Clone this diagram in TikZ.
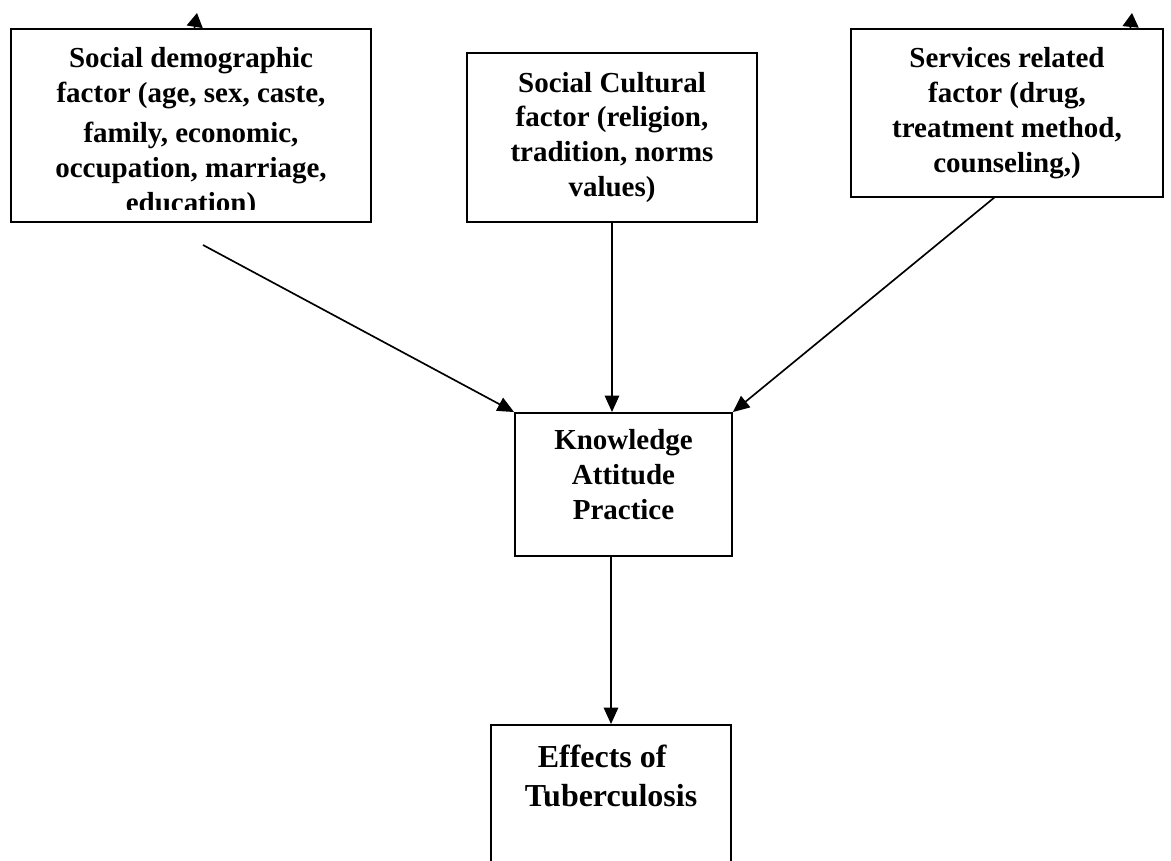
\documentclass[tikz,border=0pt]{standalone}
\usepackage{fontspec}
\setmainfont{Liberation Serif}
\usepackage{tikz}
\usetikzlibrary{arrows.meta,positioning}
\tikzstyle{arrow} = [line width=0.95pt,-{Triangle[length=0.33cm,width=0.29cm]}]
\tikzstyle{stub} = [-{Triangle[length=0.28cm,width=0.32cm]}]
\tikzstyle{factor} = [rectangle, draw, line width=1.1pt, inner sep=0pt, align=center, font=\fontsize{16.5}{19.9}\selectfont\bfseries]

\begin{document}
\begin{tikzpicture}[x=0.02cm, y=-0.02cm]
\path[use as bounding box, fill=white] (0,0) rectangle (1171,861);
\clip (0,0) rectangle (1171,861);

% Factors
\node (demo) [factor, minimum width=7.2cm, minimum height=3.86cm] at (191,125.5) {};
\begin{scope}
\clip (0,0) rectangle (1171,210);
\node (demotext) [factor, draw=none, anchor=north] at (191,46) {Social demographic\\factor (age, sex, caste,\\[3pt]family, economic,\\occupation, marriage,\\education)};
\end{scope}
\node (culture) [factor, minimum width=5.8cm, minimum height=3.38cm] at (612,137.5) {Social Cultural\\factor (religion,\\tradition, norms\\values)};
\node (service) [factor, minimum width=6.24cm, minimum height=3.36cm] at (1007,113) {Services related\\factor (drug,\\treatment method,\\counseling,)};

% KAP and outcome
\node (kap) [factor, minimum width=4.34cm, minimum height=2.86cm, text depth=0.4cm] at (623.5,484.5) {Knowledge\\Attitude\\Practice};
\node (effect) [factor, minimum width=4.8cm, minimum height=4cm, align=left, text depth=1.98cm, font=\fontsize{18.2}{22.2}\selectfont\bfseries] at (611,825) {\hspace*{0.26cm}Effects of\\Tuberculosis};

% Connections
\coordinate (demoout) at (203,245);
\coordinate (serviceout) at (995,197);
\draw[arrow] (demoout) -- (kap.north west);
\draw[arrow] (culture.south) -- (culture.south |- kap.north);
\draw[arrow] (serviceout) -- (kap.north east);
\draw[arrow] (effect.north |- kap.south) -- (effect.north);

% Loose heads on top
\coordinate (demobase) at (194.5,28);
\coordinate (demotip) at (197,13);
\coordinate (servicebase) at (1130.5,28);
\coordinate (servicetip) at (1132,13);
\draw[arrow, stub] (demobase) -- (demotip);
\draw[arrow, stub] (servicebase) -- (servicetip);
\end{tikzpicture}
\end{document}
